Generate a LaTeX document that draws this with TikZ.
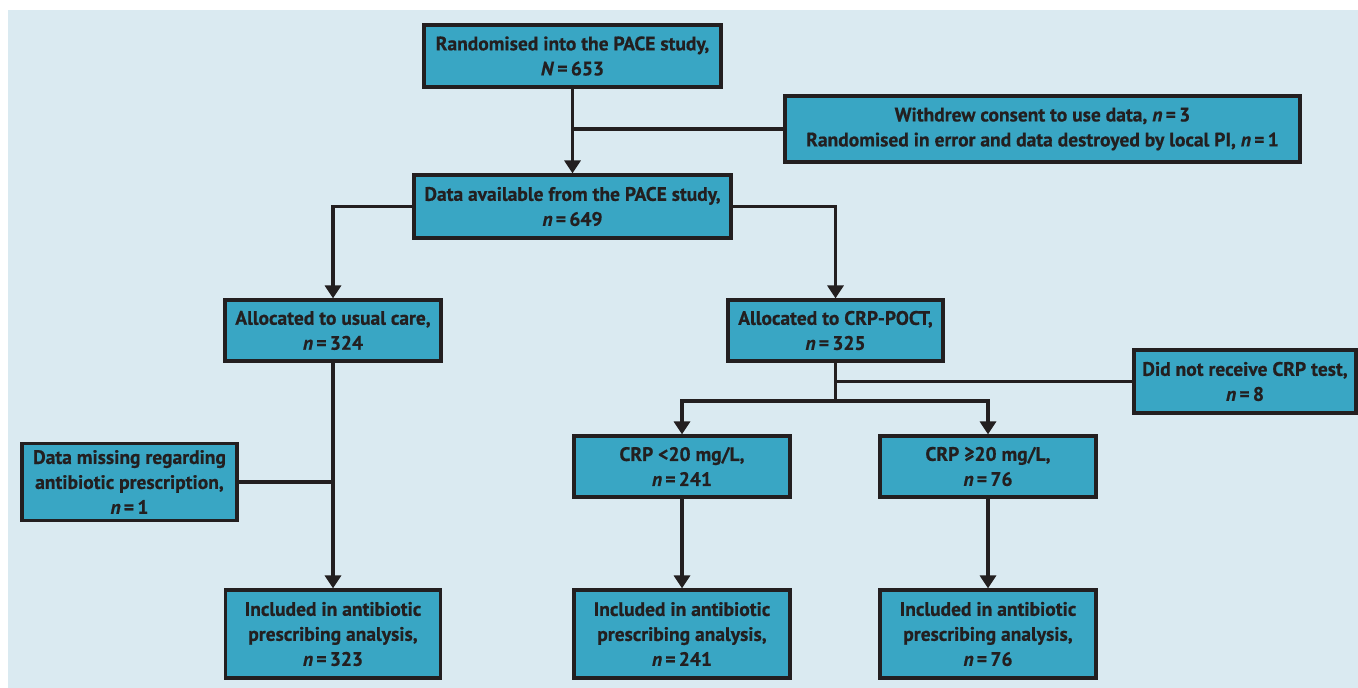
\documentclass[tikz,border=0pt]{standalone}
\usepackage{fontspec}
\setmainfont{PT Sans}[BoldFeatures={FakeBold=0.6},BoldItalicFeatures={FakeBold=0.6}]
\usetikzlibrary{arrows.meta}
\definecolor{bgblue}{HTML}{DAEAF1}
\definecolor{boxblue}{HTML}{39A6C4}
\definecolor{ink}{HTML}{231F20}
\newcommand{\nn}{\textit{n}\,=\,}
\begin{document}
\begin{tikzpicture}[x=1pt,y=-1pt,
  flowbox/.style={draw=ink,line width=3.2pt,fill=boxblue,text=ink,align=center,
    font=\bfseries\fontsize{19.5}{25}\selectfont,inner sep=2pt},
  conn/.style={draw=ink,line width=3.6pt},
  arr/.style={conn,-{Triangle[width=16pt,length=13pt]}}]
\useasboundingbox (0,0) rectangle (1358,688);
\fill[bgblue] (8,10) rectangle (1358,688);
\node[flowbox,minimum width=297pt,minimum height=62pt] (b1) at (572.5,56) {Randomised into the PACE study,\\\textit{N}\,=\,653};
\node[flowbox,minimum width=515pt,minimum height=66pt] (wd) at (1042.5,129) {Withdrew consent to use data, \nn3\\Randomised in error and data destroyed by local PI, \nn1};
\node[flowbox,minimum width=317pt,minimum height=63pt] (b2) at (572.5,206.5) {Data available from the PACE study,\\\nn649};
\node[flowbox,minimum width=216pt,minimum height=61pt] (usual) at (333,330.5) {Allocated to usual care,\\\nn324};
\node[flowbox,minimum width=215pt,minimum height=61pt] (poct) at (835.5,330.5) {Allocated to CRP-POCT,\\\nn325};
\node[flowbox,minimum width=222pt,minimum height=63pt] (notest) at (1245,381.5) {Did not receive CRP test,\\\nn8};
\node[flowbox,minimum width=215pt,minimum height=77pt] (miss) at (129.5,482) {Data missing regarding\\antibiotic prescription,\\\nn1};
\node[flowbox,minimum width=216pt,minimum height=61pt] (low) at (682,466.5) {CRP <20 mg/L,\\\nn241};
\node[flowbox,minimum width=216pt,minimum height=61pt] (high) at (988,466.5) {CRP ≥20 mg/L,\\\nn76};
\node[flowbox,minimum width=215pt,minimum height=88pt] (inc1) at (333,634) {Included in antibiotic\\prescribing analysis,\\\nn323};
\node[flowbox,minimum width=216pt,minimum height=88pt] (inc2) at (682,634) {Included in antibiotic\\prescribing analysis,\\\nn241};
\node[flowbox,minimum width=216pt,minimum height=88pt] (inc3) at (988,634) {Included in antibiotic\\prescribing analysis,\\\nn76};
\coordinate (split) at (835.5,401);
% connectors
\draw[arr] (b1.south) -- (b2.north);
\draw[conn] (wd.west) -- (wd.west -| b1.south);
\draw[arr] (b2.west) -| (usual.north);
\draw[arr] (b2.east) -| (poct.north);
\draw[arr] (usual.south) -- (inc1.north);
\draw[conn] (miss.east) -- (miss.east -| usual.south);
\draw[conn] (poct.south) -- (split);
\draw[conn] (notest.west) -- (notest.west -| poct.south);
\draw[arr] (split) -| (low.north);
\draw[arr] (split) -| (high.north);
\draw[arr] (low.south) -- (inc2.north);
\draw[arr] (high.south) -- (inc3.north);
\end{tikzpicture}
\end{document}
